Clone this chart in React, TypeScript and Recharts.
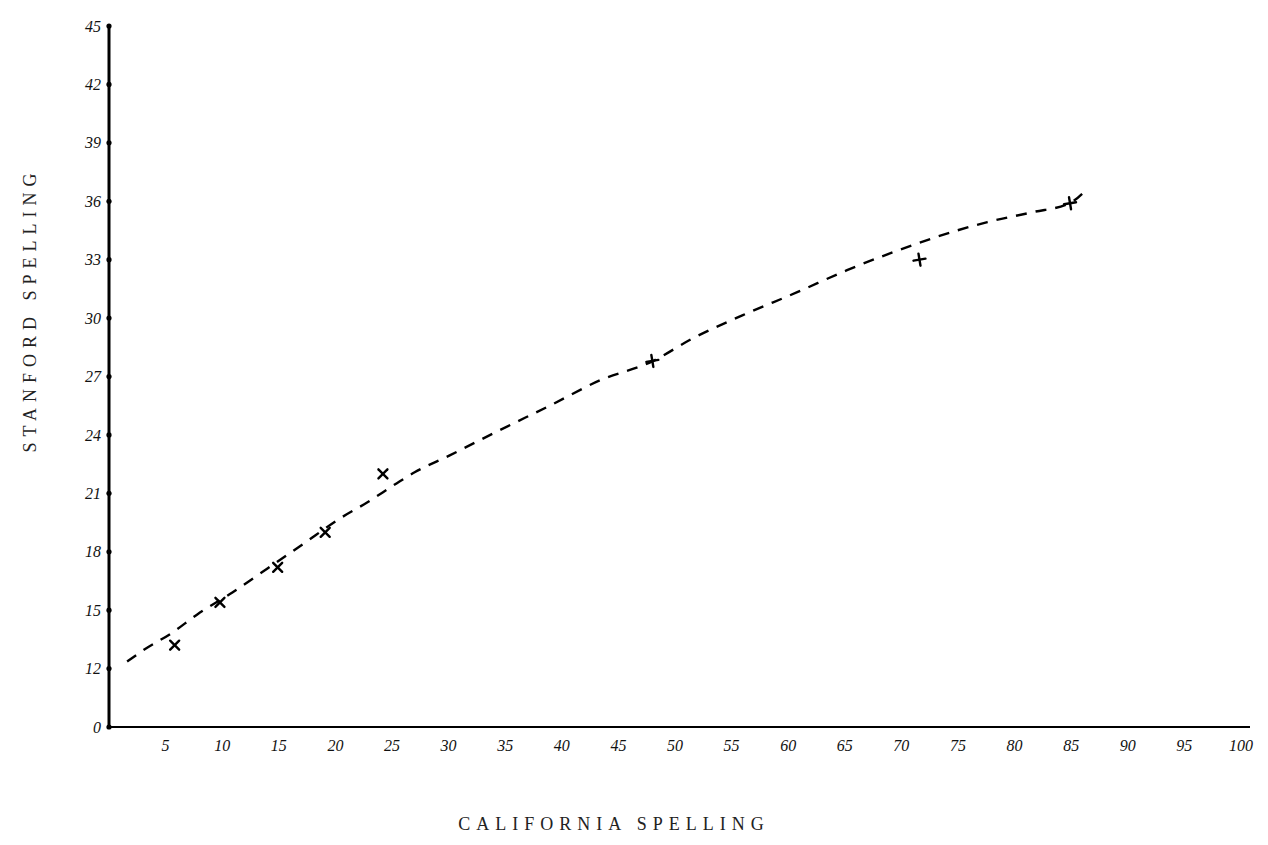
import React from 'react';
import { ScatterChart, Scatter, XAxis, YAxis } from 'recharts';

// Tick values (y value 9 stands for the broken-axis origin labelled "0")
const xTicks = [0, 5, 10, 15, 20, 25, 30, 35, 40, 45, 50, 55, 60, 65, 70, 75, 80, 85, 90, 95, 100];
const xTickLabels = ['', '5', '10', '15', '20', '25', '30', '35', '40', '45', '50', '55', '60', '65', '70', '75', '80', '85', '90', '95', '100'];
const yTicks = [9, 12, 15, 18, 21, 24, 27, 30, 33, 36, 39, 42, 45];
const yTickLabels = ['0', '12', '15', '18', '21', '24', '27', '30', '33', '36', '39', '42', '45'];

// Observed points marked with "x"
const crossX = [5.8, 9.8, 14.9, 19.1, 24.2];
const crossY = [13.2, 15.4, 17.2, 19.0, 22.0];
// Observed points marked with "+"
const plusX = [48.0, 71.6, 84.9];
const plusY = [27.8, 33.0, 35.9];

// Hand-drawn dashed curve
const curveX = [1.6, 3.0, 5.6, 7.8, 10.9, 14.0, 17.1, 20.4, 22.8, 25.4, 27.0, 30.1, 34.5, 39.0, 43.4, 48.0, 51.6, 56.0, 60.8, 65.2, 69.3, 72.8, 77.6, 81.6, 84.9, 86.4];
const curveY = [12.36, 12.93, 13.85, 14.78, 15.91, 17.14, 18.38, 19.71, 20.53, 21.51, 22.08, 22.95, 24.24, 25.52, 26.81, 27.78, 28.97, 30.15, 31.33, 32.46, 33.39, 34.11, 34.93, 35.44, 35.91, 36.63];

const crossData = crossX.map((x, i) => ({ x, y: crossY[i] }));
const plusData = plusX.map((x, i) => ({ x, y: plusY[i] }));
const curveData = curveX.map((x, i) => ({ x, y: curveY[i] }));

const handFont = '"Liberation Serif", "DejaVu Serif", serif';
const typeFont = '"Liberation Serif", "DejaVu Serif", serif';

const CrossShape = (props: any) => {
  const { cx, cy } = props;
  const s = 4.5;
  return (
    <g stroke="#000" strokeWidth={2.4} strokeLinecap="round">
      <line x1={cx - s} y1={cy - s} x2={cx + s} y2={cy + s} />
      <line x1={cx - s} y1={cy + s} x2={cx + s} y2={cy - s} />
    </g>
  );
};

const PlusShape = (props: any) => {
  const { cx, cy } = props;
  const s = 6;
  return (
    <g stroke="#000" strokeWidth={2.4} strokeLinecap="round">
      <line x1={cx - s} y1={cy + 1} x2={cx + s} y2={cy - 1} />
      <line x1={cx - 1} y1={cy - s} x2={cx + 1} y2={cy + s} />
    </g>
  );
};

const NoShape = () => <g />;

const YTick = (props: any) => {
  const { x, y, payload } = props;
  const idx = yTicks.indexOf(payload.value);
  return (
    <g>
      <circle cx={x + 7} cy={y} r={2.6} fill="#000" />
      <text x={x - 1} y={y} dy="0.35em" textAnchor="end" fontFamily={handFont} fontStyle="italic" fontSize={16} fill="#111">
        {yTickLabels[idx]}
      </text>
    </g>
  );
};

const XTick = (props: any) => {
  const { x, y, payload } = props;
  const idx = xTicks.indexOf(payload.value);
  return (
    <text x={x} y={y} dy="0.71em" textAnchor="middle" fontFamily={handFont} fontStyle="italic" fontSize={16} fill="#111">
      {xTickLabels[idx]}
    </text>
  );
};

export default function App() {
  return (
    <div style={{ width: 1252, height: 837, background: '#fff' }}>
      <ScatterChart width={1252} height={837} margin={{ top: 18, right: 10, left: 41, bottom: 88 }}>
        <XAxis
          type="number"
          dataKey="x"
          domain={[0, 100.8]}
          ticks={xTicks}
          allowDataOverflow
          interval={0}
          tickLine={false}
          tickSize={0}
          tickMargin={13}
          axisLine={{ stroke: '#000', strokeWidth: 2.2 }}
          tick={<XTick />}
          height={30}
          label={{
            content: () => (
              <text x={606} y={822} textAnchor="middle" fontFamily={typeFont} fontSize={18} letterSpacing={6} fill="#222">
                CALIFORNIA SPELLING
              </text>
            ),
          }}
        />
        <YAxis
          type="number"
          dataKey="y"
          domain={[9, 45]}
          ticks={yTicks}
          allowDataOverflow
          interval={0}
          tickLine={false}
          tickSize={0}
          tickMargin={7}
          axisLine={{ stroke: '#000', strokeWidth: 3 }}
          tick={<YTick />}
          width={60}
          label={{
            content: () => (
              <text x={28} y={302} textAnchor="middle" transform="rotate(-90 28 302)" fontFamily={typeFont} fontSize={18} letterSpacing={6} fill="#222">
                STANFORD SPELLING
              </text>
            ),
          }}
        />
        <Scatter
          data={curveData}
          shape={<NoShape />}
          line={{ stroke: '#000', strokeWidth: 2.4, strokeDasharray: '11 9' }}
          lineJointType="monotoneX"
          isAnimationActive={false}
        />
        <Scatter data={crossData} shape={<CrossShape />} isAnimationActive={false} />
        <Scatter data={plusData} shape={<PlusShape />} isAnimationActive={false} />
      </ScatterChart>
    </div>
  );
}
